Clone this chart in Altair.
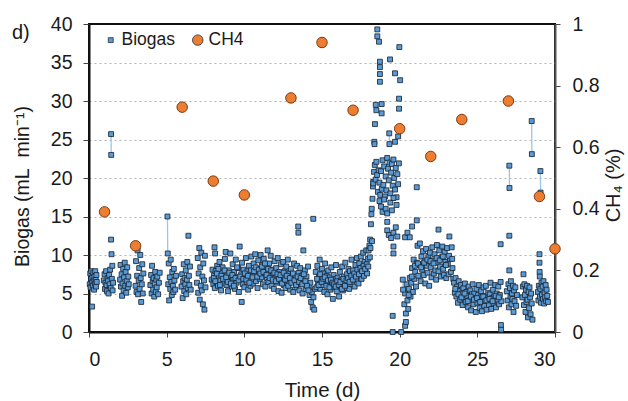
import altair as alt
import pandas as pd

# ---------------- data ----------------
# Biogas flow (day, mL/min), grouped by sampling period
bio_d0 = [[0.05,6.2],[0.08,7.6],[0.10,5.8],[0.13,6.9],[0.15,7.9],[0.18,6.4],[0.20,3.3],[0.22,7.1],[0.25,6.0],[0.28,7.7],
          [0.30,6.6],[0.33,5.5],[0.35,7.2],[0.38,6.3],[0.40,7.9],[0.43,6.8],[0.45,5.9],[0.48,7.4],[0.50,6.5]]
bio_d1 = [[0.95,6.7],[1.00,7.5],[1.03,5.6],[1.06,6.4],[1.10,7.9],[1.13,6.1],[1.16,5.3],[1.20,7.0],[1.23,6.6],[1.26,5.0],
          [1.30,7.4],[1.33,6.2],[1.36,8.1],[1.40,5.7],[1.42,12.0],[1.45,10.1],[1.47,6.9],[1.50,8.6],[1.52,5.4],[1.55,6.4]]
bio_d2 = [[2.00,6.8],[2.03,8.7],[2.06,5.9],[2.10,7.5],[2.13,4.7],[2.16,6.3],[2.20,8.2],[2.23,5.4],[2.26,7.1],[2.30,9.0],
          [2.33,6.0],[2.36,7.8],[2.40,5.1],[2.43,6.6],[2.46,8.4],[2.50,5.8],[2.53,7.2],[2.56,6.2]]
bio_d3 = [[3.00,6.0],[3.03,9.2],[3.06,5.2],[3.10,7.3],[3.13,10.6],[3.16,4.9],[3.20,6.7],[3.23,8.3],[3.26,5.6],[3.30,10.0],
          [3.33,7.0],[3.36,3.9],[3.40,6.2],[3.43,8.8],[3.46,5.0],[3.50,7.6]]
bio_d4 = [[3.95,6.1],[4.00,7.4],[4.03,5.0],[4.06,8.6],[4.10,6.6],[4.13,5.5],[4.16,7.0],[4.20,4.6],[4.23,6.3],[4.26,7.8],
          [4.30,5.2],[4.33,6.8],[4.36,5.8],[4.40,7.2],[4.45,4.9],[4.50,6.4],[4.55,7.7]]
bio_d5 = [[5.10,6.2],[5.13,8.9],[5.16,4.1],[5.20,7.1],[5.23,5.6],[5.26,9.4],[5.30,6.5],[5.33,4.8],[5.36,7.8],[5.40,6.0],
          [5.43,5.2],[5.46,8.2],[5.50,6.7],[5.55,5.5],[5.60,7.3]]
bio_d6 = [[5.95,5.9],[6.00,7.5],[6.03,4.4],[6.06,6.6],[6.10,8.8],[6.13,5.3],[6.16,7.0],[6.20,6.2],[6.23,8.0],[6.26,4.9],
          [6.30,6.8],[6.33,9.1],[6.36,5.7],[6.40,12.5],[6.43,7.3],[6.46,6.1],[6.50,8.5],[6.55,5.5]]
bio_d7 = [[6.95,6.4],[7.00,9.6],[7.03,5.1],[7.06,7.6],[7.10,10.9],[7.13,4.2],[7.16,8.4],[7.20,6.0],[7.23,10.3],[7.26,5.4],
          [7.30,7.2],[7.33,3.6],[7.36,8.9],[7.40,6.7],[7.43,2.9],[7.46,9.9],[7.50,5.8]]
bio_d8_14 = [[7.90,6.8],[7.95,8.1],[8.00,6.2],[8.05,7.4],[8.08,11.0],[8.10,5.7],[8.12,10.2],[8.15,7.9],[8.20,6.5],[8.25,8.6],
             [8.30,6.0],[8.35,7.2],[8.40,9.1],[8.45,6.7],[8.50,5.4],[8.55,7.7],[8.60,8.4],[8.65,6.3],[8.70,7.0],[8.75,9.5],
             [8.80,10.4],[8.85,6.1],[8.90,7.6],[8.95,5.3],[9.00,8.0],[9.05,6.6],[9.10,10.2],[9.15,7.3],[9.20,5.9],[9.25,8.8],
             [9.30,6.9],[9.35,7.8],[9.40,5.6],[9.45,9.4],[9.50,6.4],[9.55,7.1],[9.60,8.3],[9.65,5.2],[9.70,11.1],[9.75,6.8],
             [9.80,7.5],[9.83,3.9],[9.85,9.0],[9.90,6.2],[9.95,8.1],[10.00,5.8],[10.05,7.0],[10.10,9.6],[10.15,6.5],[10.20,7.9],
             [10.25,5.5],[10.30,8.6],[10.35,7.2],[10.40,6.0],[10.45,9.8],[10.50,7.6],[10.55,6.3],[10.60,8.9],[10.65,7.4],[10.70,10.1],
             [10.75,6.6],[10.80,8.2],[10.85,5.7],[10.90,9.3],[10.95,7.8],[11.00,6.9],[11.05,10.0],[11.10,7.1],[11.15,8.7],[11.20,6.2],
             [11.25,9.5],[11.30,7.7],[11.35,5.9],[11.40,8.4],[11.45,7.0],[11.50,10.6],[11.55,6.5],[11.60,8.9],[11.65,7.3],[11.70,9.9],
             [11.75,6.0],[11.80,8.1],[11.85,7.5],[11.90,5.6],[11.95,9.2],[12.00,7.0],[12.05,8.3],[12.10,6.4],[12.15,9.6],[12.20,5.3],
             [12.25,7.8],[12.30,6.7],[12.35,8.8],[12.40,5.1],[12.45,7.2],[12.50,9.1],[12.55,6.1],[12.60,7.9],[12.65,5.7],[12.70,8.5],
             [12.75,6.9],[12.80,9.4],[12.85,6.3],[12.90,7.6],[12.95,5.5],[13.00,8.2],[13.05,6.8],[13.10,7.4],[13.15,5.2],[13.20,8.9],
             [13.25,6.5],[13.30,7.1],[13.35,5.8],[13.40,8.6],[13.45,6.2],[13.47,13.7],[13.48,12.9],[13.50,7.7],[13.55,5.4],[13.60,8.3],
             [13.65,6.6],[13.70,7.3],[13.75,5.0],[13.80,10.6],[13.85,6.9],[13.90,8.0],[13.95,5.6],[14.00,7.2],[14.05,6.3],[14.10,8.5],
             [14.15,5.9],[14.20,4.8],[14.25,6.4],[14.30,3.9],[14.35,5.2],[14.40,3.2],[14.44,14.7],[14.45,4.5],[14.50,2.9],[14.55,5.6],
             [8.03,7.0],[8.13,6.6],[8.23,7.6],[8.33,8.2],[8.43,6.1],[8.53,7.3],[8.63,6.9],[8.73,8.0],[8.83,7.1],[8.93,6.5],
             [9.03,7.7],[9.13,6.3],[9.23,7.4],[9.33,6.0],[9.43,7.0],[9.53,8.4],[9.63,6.7],[9.73,7.2],[9.93,6.9],[10.03,7.6],
             [10.13,6.8],[10.23,7.3],[10.33,6.4],[10.43,8.0],[10.53,7.1],[10.63,7.9],[10.73,8.4],[10.83,7.2],[10.93,8.1],[11.03,7.6],
             [11.13,8.5],[11.23,7.8],[11.33,8.9],[11.43,7.4],[11.53,8.2],[11.63,7.0],[11.73,8.0],[11.83,6.8],[11.93,7.7],[12.03,6.6],
             [12.13,7.5],[12.23,6.9],[12.33,7.4],[12.43,6.3],[12.53,7.7],[12.63,6.8],[12.73,7.3],[12.83,6.0],[12.93,7.0],[13.03,6.4],
             [13.13,7.6],[13.23,6.7],[13.33,6.1],[13.43,7.2],[13.53,6.5],[13.63,7.0],[13.73,6.2],[13.83,7.5],[13.93,6.6],[14.03,6.0],
             [14.13,5.4]]
bio_d14_18 = [[14.60,7.8],[14.65,5.8],[14.70,8.6],[14.75,6.4],[14.80,7.2],[14.85,9.4],[14.90,5.6],[14.95,7.0],[15.00,8.2],[15.05,6.1],
              [15.10,7.6],[15.15,5.2],[15.20,8.9],[15.25,6.6],[15.30,7.3],[15.35,4.9],[15.40,8.0],[15.45,6.2],[15.50,7.1],[15.55,5.5],
              [15.60,8.4],[15.65,6.0],[15.70,4.3],[15.75,7.4],[15.80,5.8],[15.85,6.9],[15.90,8.7],[15.95,5.3],[16.00,7.0],[16.05,6.4],
              [16.10,4.6],[16.15,7.8],[16.20,5.9],[16.25,6.8],[16.30,8.5],[16.35,5.4],[16.40,7.2],[16.45,6.3],[16.50,9.0],[16.55,5.7],
              [16.60,7.5],[16.65,6.6],[16.70,8.2],[16.75,5.6],[16.80,7.9],[16.85,6.9],[16.90,9.4],[16.95,6.2],[17.00,8.0],[17.05,7.1],
              [17.10,5.9],[17.15,8.7],[17.20,6.8],[17.25,9.6],[17.30,7.4],[17.35,6.3],[17.40,8.9],[17.45,7.7],[17.50,9.8],[17.55,6.9],
              [17.60,8.4],[17.65,10.3],[17.70,7.3],[17.75,9.1],[17.80,8.0],[17.85,10.6],[17.90,7.6],[17.95,9.5],
              [14.68,6.9],[14.78,6.1],[14.88,7.5],[14.98,6.5],[15.08,6.9],[15.18,7.1],[15.28,6.0],[15.38,6.7],[15.48,5.8],[15.58,6.8],
              [15.68,6.4],[15.78,6.2],[15.88,5.9],[15.98,6.6],[16.08,6.1],[16.18,6.5],[16.28,5.6],[16.38,6.9],[16.48,6.0],[16.58,6.7],
              [16.68,7.0],[16.78,6.5],[16.88,7.3],[16.98,6.8],[17.08,7.6],[17.18,7.2],[17.28,8.1],[17.38,7.5],[17.48,8.3],[17.58,7.9],
              [17.68,8.6],[17.78,8.2],[17.88,8.8],[17.98,8.5]]
bio_peak = [[18.00,10.6],[18.05,11.2],[18.08,9.7],[18.10,12.0],[18.12,10.9],[18.15,14.0],[18.18,15.3],[18.20,16.0],[18.22,11.8],
            [18.25,17.3],[18.28,18.9],[18.30,19.5],
            [18.56,39.3],[18.56,38.4],[18.67,37.7],[19.98,37.0],[19.38,35.4],[18.73,35.1],[18.73,34.4],[18.73,33.5],[18.73,32.5],
            [19.70,33.6],[20.03,32.7],[19.96,30.3],[19.96,29.0],[18.46,29.5],[18.84,29.6],[18.50,28.8],[18.84,28.4],[18.41,27.0],
            [19.70,24.7],[19.90,25.4],[18.37,24.7],[18.38,24.4],
            [18.30,19.3],[18.35,20.8],[18.40,21.7],[18.45,19.8],[18.50,22.1],[18.55,20.4],[18.60,18.2],[18.65,21.0],[18.70,19.4],
            [18.75,17.8],[18.80,20.9],[18.85,18.6],[18.90,22.3],[18.95,19.1],[19.00,21.5],[19.05,17.6],[19.10,20.2],[19.15,18.4],
            [19.20,22.6],[19.25,21.2],[19.30,19.7],[19.35,22.0],[19.40,18.0],[19.45,20.7],[19.50,21.8],[19.55,19.0],[19.60,22.4],
            [19.65,20.0],[19.70,18.5],[19.75,21.3],[19.80,17.5],[19.85,20.5],[19.90,19.2],[19.95,21.9],
            [18.70,17.0],[18.80,16.3],[18.90,15.6],[19.00,17.2],[19.10,16.0],[19.20,15.4],[19.40,16.8],[19.50,15.8],[19.60,17.4],
            [19.80,16.5],[19.20,14.3],[19.20,13.2],[19.30,12.6],[19.45,12.2],[19.60,12.9],[19.75,13.6],[19.85,12.4],[19.60,11.1],
            [19.60,10.2],[20.35,12.3],[20.50,12.9],[20.65,12.3],[20.80,13.7],[21.10,14.5],[21.10,18.8],[22.50,13.3],
            [19.55,2.1],[19.55,0.0],[20.10,0.0],[20.35,0.8],[20.40,1.3]]
bio_d20_23 = [[20.30,3.6],[20.35,5.0],[20.40,2.4],[20.45,6.2],[20.50,4.1],[20.55,3.0],[20.60,5.6],[20.65,7.0],[20.70,4.6],[20.75,6.4],
              [20.80,8.3],[20.85,5.2],[20.90,9.4],[20.95,6.9],[21.00,7.8],[21.05,5.9],[21.10,9.0],[21.15,11.2],[21.20,7.3],[21.25,8.7],
              [21.30,11.5],[21.35,6.6],[21.40,9.8],[21.45,8.1],[21.50,10.5],[21.55,7.4],[21.60,9.2],[21.65,6.3],[21.70,10.8],[21.75,8.6],
              [21.80,7.7],[21.85,9.9],[21.90,6.0],[21.95,10.3],[22.00,8.4],[22.05,7.1],[22.10,11.0],[22.15,9.3],[22.20,7.6],[22.25,10.1],
              [22.30,8.0],[22.35,6.8],[22.40,11.3],[22.45,9.0],[22.50,7.9],[22.55,10.6],[22.60,8.5],[22.65,7.2],[22.70,9.7],[22.75,11.1],
              [22.80,8.2],[22.85,7.4],[22.90,10.4],[22.95,9.1],[23.00,7.0],[23.05,10.9],[23.10,8.8],[23.15,7.5],[23.20,12.4],[23.25,9.5],
              [23.30,7.8],[23.35,11.0],[23.40,8.3],[23.45,6.9],
              [20.58,4.8],[20.78,7.2],[20.98,8.6],[21.18,8.9],[21.38,8.4],[21.58,9.0],[21.78,9.4],[21.98,9.2],[22.18,8.9],[22.38,9.6],
              [22.58,9.3],[22.78,9.8],[22.98,8.7],[23.18,9.9],[23.38,9.5]]
bio_d23_26 = [[23.50,6.4],[23.55,5.1],[23.60,7.0],[23.65,4.6],[23.70,5.9],[23.75,3.8],[23.80,6.6],[23.85,5.3],[23.90,4.2],[23.95,6.1],
              [24.00,5.0],[24.05,3.5],[24.10,5.7],[24.15,4.4],[24.20,6.3],[24.25,3.9],[24.30,5.2],[24.35,4.7],[24.40,3.2],[24.45,5.9],
              [24.50,4.1],[24.55,5.4],[24.60,2.8],[24.65,4.9],[24.70,6.2],[24.75,3.6],[24.80,5.0],[24.85,4.3],[24.90,2.6],[24.95,5.6],
              [25.00,3.8],[25.05,4.8],[25.10,6.1],[25.15,3.1],[25.20,4.5],[25.25,5.3],[25.30,2.7],[25.35,4.0],[25.40,5.8],[25.45,3.4],
              [25.50,4.7],[25.55,6.0],[25.60,2.9],[25.65,4.2],[25.70,5.1],[25.75,3.5],[25.80,4.9],[25.85,6.4],[25.90,3.0],[25.95,4.4],
              [26.00,5.5],[26.05,3.7],[26.10,4.6],[26.15,6.1],[26.20,3.2],[26.25,5.0],[26.30,4.1],[26.35,5.9],[26.40,3.6],[26.45,4.8],
              [26.50,6.5],[26.52,0.9],[26.53,0.3],[26.55,4.0],[26.50,11.4],
              [23.58,5.6],[23.78,4.9],[23.98,4.5],[24.18,5.0],[24.38,4.0],[24.58,4.6],[24.78,4.2],[24.98,4.4],[25.18,3.9],[25.38,4.6],
              [25.58,4.1],[25.78,4.3],[25.98,4.0],[26.18,4.7],[26.38,4.5]]
bio_d27 = [[26.90,5.3],[26.95,4.1],[27.00,6.2],[27.03,3.2],[27.06,8.0],[27.06,12.5],[27.10,5.7],[27.13,4.6],[27.16,6.6],[27.20,3.6],
           [27.23,5.0],[27.26,4.3],[27.30,6.0],[27.33,2.6],[27.36,5.4],[27.40,4.0],[27.45,5.8],[27.50,3.4],[27.55,4.8]]
bio_d28 = [[27.90,4.5],[27.93,5.9],[27.97,7.5],[28.00,3.5],[28.03,6.2],[28.06,4.8],[28.10,2.6],[28.13,5.5],[28.16,3.9],[28.20,6.0],
           [28.23,4.2],[28.26,1.9],[28.30,5.2],[28.33,3.1],[28.36,5.8],[28.40,4.5],[28.43,2.3],[28.46,5.0],[28.50,3.7],[28.55,1.6]]
bio_d29 = [[28.90,5.2],[28.93,4.1],[28.96,6.0],[29.00,10.1],[29.00,9.0],[29.01,7.8],[29.02,7.2],[29.03,4.6],[29.06,5.6],[29.10,3.8],
           [29.13,6.4],[29.16,4.8],[29.20,5.9],[29.23,4.3],[29.26,6.6],[29.30,3.7],[29.33,5.1],[29.36,4.5],[29.40,6.1],[29.43,4.0],
           [29.46,5.5],[29.50,4.7],[29.55,3.9]]
# consecutive readings whose connecting line is visible
bio_links = [[[1.42,25.7],[1.43,23.0]], [[5.05,15.0],[5.07,10.2]], [[19.33,25.8],[19.34,24.4]],
             [[20.20,6.8],[20.22,5.5]], [[27.06,21.6],[27.07,18.7]], [[28.50,27.4],[28.51,23.1]],
             [[29.06,20.9],[29.07,18.1]]]

# Methane content (fraction)
ch4_day = [1, 3, 6, 8, 10, 13, 15, 17, 20, 22, 24, 27, 29, 30]
ch4_frac = [0.39, 0.28, 0.73, 0.49, 0.445, 0.76, 0.94, 0.72, 0.66, 0.57, 0.69, 0.75, 0.44, 0.27]

series_names = ["Biogas", "CH4"]
series_colors = ["#5b9bd5", "#ed7d31"]

# ---------------- tables ----------------
bio_segments = [bio_d0, bio_d1, bio_d2, bio_d3, bio_d4, bio_d5, bio_d6, bio_d7, bio_d8_14,
                bio_d14_18, bio_peak, bio_d20_23, bio_d23_26, bio_d27, bio_d28, bio_d29]
bio_rows = [{"day": d, "rate": r, "series": "Biogas"} for seg in bio_segments for d, r in seg]
link_rows = []
for i, pair in enumerate(bio_links):
    for d, r in pair:
        link_rows.append({"day": d, "rate": r, "link": i})
        bio_rows.append({"day": d, "rate": r, "series": "Biogas"})
bio_df = pd.DataFrame(bio_rows)
link_df = pd.DataFrame(link_rows)
ch4_df = pd.DataFrame({"day": ch4_day, "ch4": ch4_frac, "series": ["CH4"] * len(ch4_day)})

FONT = "Liberation Sans"
TXT = "#1a1a1a"
LBL = 19.5

x_enc = alt.X("day:Q", scale=alt.Scale(domain=[0, 30], nice=False),
              axis=alt.Axis(values=[0, 5, 10, 15, 20, 25, 30], title="Time (d)", grid=False,
                            tickSize=5, tickColor="#444", domainColor="#111", domainWidth=2,
                            labelFontSize=LBL, titleFontSize=20.5, labelPadding=13, titlePadding=12,
                            titleFontWeight="normal", labelColor=TXT, titleColor=TXT))

color_enc = alt.Color("series:N", scale=alt.Scale(domain=series_names, range=series_colors),
                      legend=alt.Legend(title=None, orient="none", legendX=13, legendY=7,
                                        direction="horizontal", labelFontSize=17.5, labelColor=TXT,
                                        labelOffset=2, columnPadding=13, padding=0,
                                        symbolStrokeColor="#1f2d3d", symbolStrokeWidth=0.8))
shape_enc = alt.Shape("series:N", scale=alt.Scale(domain=series_names, range=["square", "circle"]))
size_enc = alt.Size("series:N", scale=alt.Scale(domain=series_names, range=[24, 110]))

y_left = alt.Y("rate:Q", scale=alt.Scale(domain=[0, 40], nice=False),
               axis=alt.Axis(values=[0, 5, 10, 15, 20, 25, 30, 35, 40],
                             title="Biogas (mL\u00a0\u00a0min⁻¹)",
                             grid=True, gridDash=[2, 3], gridColor="#b4b4b4", gridWidth=1,
                             gridOpacity=alt.condition("datum.value === 0 || datum.value === 40",
                                                       alt.value(0), alt.value(1)),
                             tickSize=6, tickColor="#444", domainColor="#111", domainWidth=2,
                             labelFontSize=LBL, titleFontSize=19.5, labelPadding=11, titlePadding=18,
                             titleY=162,
                             titleFontWeight="normal", labelColor=TXT, titleColor=TXT))

lines = alt.Chart(link_df).mark_line(color="#9dc3e6", strokeWidth=1.3).encode(
    x=x_enc, y=y_left, detail="link:N")

bio_pts = alt.Chart(bio_df).mark_point(filled=True, opacity=1, stroke="#1a2634", strokeWidth=0.85).encode(
    x=x_enc, y=y_left, color=color_enc, shape=shape_enc, size=size_enc)

ch4_pts = alt.Chart(ch4_df).mark_point(filled=True, opacity=1, stroke="#7a3a12", strokeWidth=1).encode(
    x=x_enc,
    y=alt.Y("ch4:Q", scale=alt.Scale(domain=[0, 1], nice=False),
            axis=alt.Axis(orient="right", values=[0, 0.2, 0.4, 0.6, 0.8, 1], format="~g",
                          title="CH₄ (%)", grid=False, titleAngle=270, titleY=161,
                          tickSize=5, tickColor="#444", domainColor="#555", domainWidth=2,
                          labelFontSize=LBL, titleFontSize=20, labelPadding=12, titlePadding=24,
                          titleFontWeight="normal", labelColor=TXT, titleColor=TXT)),
    color=color_enc, shape=shape_enc, size=size_enc)

chart = alt.layer(alt.layer(lines, bio_pts), ch4_pts).resolve_scale(y="independent").properties(
    width=466, height=308,
    padding={"left": 89, "top": 24, "right": 73, "bottom": 69},
    autosize=alt.AutoSizeParams(type="none"),
    title=alt.TitleParams("d)", anchor="start", frame="group", dx=-77, dy=34, offset=5, baseline="top",
                          fontSize=20, fontWeight="normal", color=TXT, font=FONT),
).configure(font=FONT, background="white").configure_view(stroke="#111", strokeWidth=2)

chart.save("out.html", embed_options={"renderer": "svg", "actions": False})
